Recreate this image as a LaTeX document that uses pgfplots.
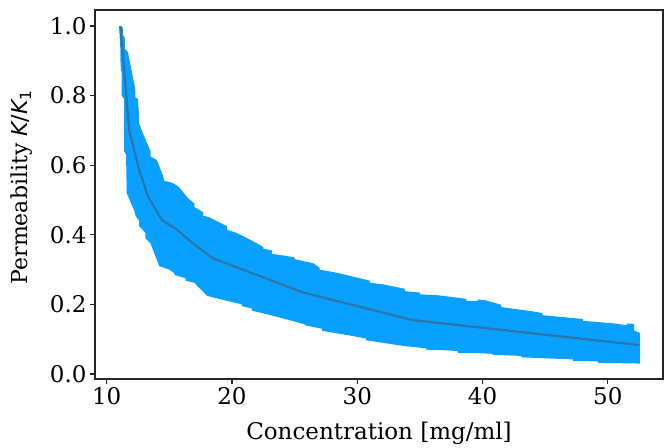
\documentclass[border=0pt]{standalone}
\usepackage{pgfplots}
\pgfplotsset{compat=1.18}
\usepgfplotslibrary{fillbetween}
\usepackage{fontspec}
\setmainfont{DejaVu Serif}
\newfontfamily\mathsans{DejaVu Sans}
\definecolor{bandc}{RGB}{10,160,255}
\definecolor{linec}{RGB}{42,118,168}
\begin{document}
\begin{tikzpicture}
\begin{axis}[
    scale only axis,
    width=568pt, height=369pt,
    xmin=9.07, xmax=54.4,
    ymin=-0.0144, ymax=1.046,
    xtick={10,20,30,40,50},
    ytick={0,0.2,0.4,0.6,0.8,1.0},
    yticklabel style={/pgf/number format/.cd, fixed, fixed zerofill, precision=1},
    /pgf/number format/assume math mode=true,
    tick align=outside,
    xtick pos=bottom, ytick pos=left,
    major tick length=5pt,
    axis line style={line width=1.1pt, black!85},
    every tick/.style={line width=1.1pt, black!85},
    tick label style={font=\fontsize{23}{27}\selectfont},
    xlabel={Concentration [mg/ml]},
    ylabel={Permeability {\mathsans\itshape K}{\mathsans /}{\mathsans\itshape K}\textsubscript{\mathsans 1}},
    every axis x label/.style={at={(axis description cs:0.5,-0.146)}, anchor=center,
        font=\fontsize{23}{27}\selectfont},
    every axis y label/.style={at={(axis description cs:-0.13,0.52)}, anchor=center, rotate=90,
        font=\fontsize{22}{26}\selectfont},
]
\coordinate (SW) at (rel axis cs:0,0);
\coordinate (NE) at (rel axis cs:1,1);

% upper edge of the band
\addplot[name path=U, draw=none] coordinates {
(11.00,1.000) (11.30,0.995) (11.30,0.975) (11.45,0.965) (11.45,0.935)
(11.70,0.925) (12.30,0.815) (12.30,0.795) (12.50,0.790) (12.60,0.735)
(12.60,0.720) (12.80,0.700) (13.50,0.640) (13.50,0.625) (14.00,0.615)
(14.50,0.570) (14.60,0.555) (15.20,0.550) (15.70,0.540) (16.50,0.505)
(17.00,0.490) (17.00,0.480) (17.70,0.465) (17.70,0.455) (18.20,0.450)
(19.60,0.425) (19.60,0.415) (20.40,0.405) (21.50,0.385) (22.50,0.365)
(22.50,0.360) (23.20,0.355) (23.20,0.345) (24.20,0.340) (25.00,0.335)
(25.00,0.330) (26.50,0.318) (27.00,0.305) (27.00,0.300) (28.50,0.290)
(31.00,0.268) (31.00,0.262) (32.00,0.258) (33.80,0.245) (33.80,0.238)
(35.00,0.234) (35.00,0.229) (36.50,0.226) (38.70,0.216) (38.70,0.210)
(39.60,0.210) (39.60,0.214) (40.20,0.212) (41.50,0.199) (41.50,0.192)
(44.00,0.180) (44.80,0.175) (44.80,0.169) (48.00,0.158) (48.00,0.153)
(50.60,0.145) (51.50,0.140) (51.50,0.145) (52.10,0.144) (52.10,0.125)
(52.55,0.118)
};
% lower edge of the band
\addplot[name path=L, draw=none] coordinates {
(11.00,0.995) (11.10,0.930) (11.10,0.900) (11.15,0.870) (11.20,0.870)
(11.20,0.800) (11.40,0.790) (11.40,0.640) (11.55,0.630) (11.60,0.520)
(12.20,0.470) (12.30,0.455) (12.60,0.440) (12.60,0.425) (13.10,0.405)
(13.10,0.390) (13.50,0.375) (14.20,0.310) (15.00,0.300) (15.40,0.290)
(15.40,0.285) (16.30,0.275) (16.30,0.268) (17.00,0.262) (18.00,0.225)
(18.50,0.220) (20.20,0.205) (20.80,0.200) (20.80,0.195) (21.60,0.188)
(21.60,0.182) (23.00,0.170) (25.80,0.143) (25.80,0.140) (27.20,0.130)
(27.20,0.124) (29.50,0.110) (30.70,0.102) (30.70,0.097) (33.80,0.080)
(35.50,0.074) (35.50,0.070) (37.10,0.068) (38.00,0.066) (38.00,0.060)
(39.50,0.060) (40.80,0.058) (40.80,0.055) (43.10,0.052) (43.10,0.048)
(45.00,0.045) (47.20,0.042) (47.20,0.038) (49.20,0.036) (49.20,0.032)
(52.55,0.030)
};
\addplot[bandc] fill between[of=U and L];

% mean curve
\addplot[linec, line width=2.2pt, mark=none] coordinates {
(11.1,1.000) (11.8,0.700) (12.6,0.585) (13.3,0.510) (14.4,0.443)
(15.6,0.415) (17.0,0.372) (18.5,0.332) (25.7,0.234) (34.4,0.155)
(52.5,0.083)
};
\end{axis}
\path ([shift={(-95pt,-68pt)}]SW) rectangle ([shift={(9pt,10pt)}]NE);
\end{tikzpicture}
\end{document}
